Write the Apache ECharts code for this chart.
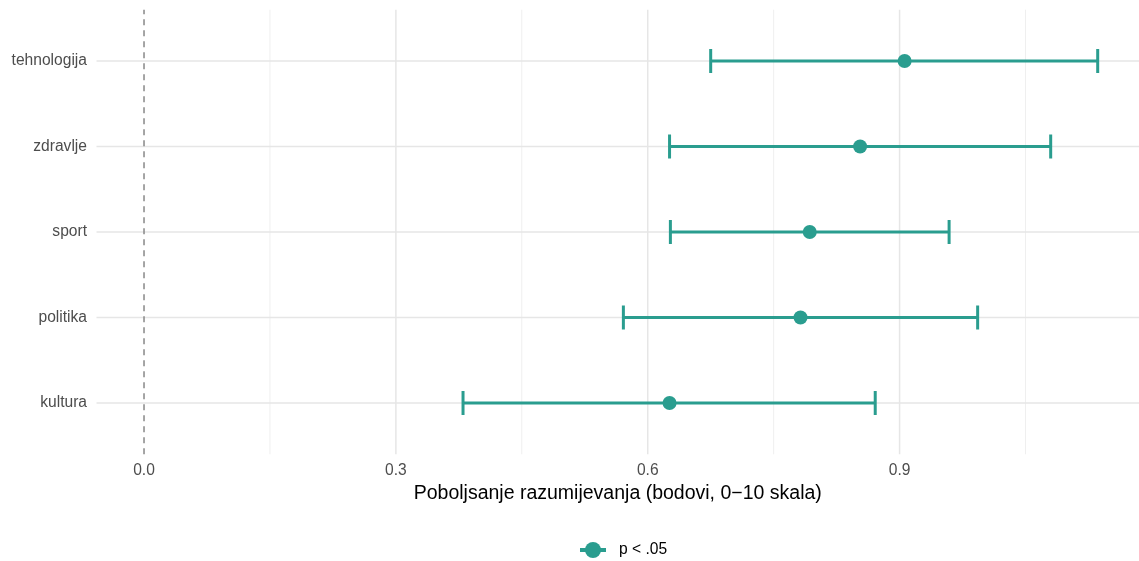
<!DOCTYPE html>
<html><head><meta charset="utf-8">
<script src="https://cdn.jsdelivr.net/npm/echarts@6/dist/echarts.min.js"></script>
<style>html,body{margin:0;padding:0;background:#fff}#c{width:1139px;height:561px}</style>
</head><body><div id="c"></div>
<script>
const categories = ['kultura', 'politika', 'sport', 'zdravlje', 'tehnologija'];
const estimates = [0.626, 0.782, 0.793, 0.853, 0.906];
const lower = [0.380, 0.571, 0.627, 0.626, 0.675];
const upper = [0.871, 0.993, 0.959, 1.080, 1.136];
const xTicks = [0, 0.3, 0.6, 0.9];
const xMinor = [0.15, 0.45, 0.75, 1.05];
const legendLabel = 'p < .05';
const xTitle = 'Poboljsanje razumijevanja (bodovi, 0\u221210 skala)';

const TEAL = '#2a9d8f';
const FONT = 'Liberation Sans';
const YMIN = 0.4, YMAX = 5.6;
const XMIN = -0.0566, XMAX = 1.1852;
const yPos = categories.map((c, i) => i + 1);

const gridData = [];
xMinor.forEach(v => gridData.push([v, 'xminor']));
xTicks.filter(v => v !== 0).forEach(v => gridData.push([v, 'xmajor']));
yPos.forEach(v => gridData.push([v, 'ymajor']));

const chart = echarts.init(document.getElementById('c'));
chart.setOption({
  animation: false,
  grid: { left: 96.5, top: 9.7, right: 0, height: 444.6, containLabel: false },
  xAxis: {
    type: 'value', min: XMIN, max: XMAX,
    axisLine: { show: false }, axisTick: { show: false }, splitLine: { show: false },
    axisLabel: { customValues: xTicks, formatter: v => v.toFixed(1), color: '#4d4d4d', fontSize: 15.6, margin: 8, fontFamily: FONT },
    name: xTitle, nameLocation: 'middle', nameGap: 28,
    nameTextStyle: { color: '#000', fontSize: 19.5, fontFamily: FONT }
  },
  yAxis: {
    type: 'value', min: YMIN, max: YMAX,
    axisLine: { show: false }, axisTick: { show: false }, splitLine: { show: false },
    axisLabel: { customValues: yPos, formatter: v => categories[Math.round(v) - 1], color: '#4d4d4d', fontSize: 15.6, margin: 9.5, fontFamily: FONT }
  },
  legend: {
    data: [legendLabel], left: 573, top: 537,
    itemWidth: 26, itemHeight: 20, itemGap: 10,
    lineStyle: { width: 4, color: TEAL },
    textStyle: { color: '#000', fontSize: 15.6, fontFamily: FONT, padding: [0, 0, 0, 8] }
  },
  series: [
    {
      type: 'custom', name: 'grid', silent: true, z: 0, clip: false,
      data: gridData,
      renderItem: (params, api) => {
        const kind = gridData[params.dataIndex][1];
        const v = api.value(0);
        let p1, p2;
        if (kind === 'ymajor') { p1 = api.coord([XMIN, v]); p2 = api.coord([XMAX, v]); }
        else { p1 = api.coord([v, YMIN]); p2 = api.coord([v, YMAX]); }
        return { type: 'line', shape: { x1: p1[0], y1: p1[1], x2: p2[0], y2: p2[1] },
          style: { stroke: kind === 'xminor' ? '#efefef' : '#e6e6e6', lineWidth: kind === 'xminor' ? 1 : 1.5 } };
      }
    },
    {
      type: 'custom', name: 'zero', silent: true, z: 1, clip: false,
      data: [[0]],
      renderItem: (params, api) => {
        const p1 = api.coord([0, YMIN]), p2 = api.coord([0, YMAX]);
        return { type: 'line', shape: { x1: p1[0], y1: p1[1], x2: p2[0], y2: p2[1] },
          style: { stroke: '#888888', lineWidth: 1.5, lineDash: [6, 5] } };
      }
    },
    {
      type: 'custom', name: 'ci', silent: true, z: 2,
      data: categories.map((c, i) => [lower[i], upper[i], yPos[i]]),
      renderItem: (params, api) => {
        const lo = api.coord([api.value(0), api.value(2)]);
        const hi = api.coord([api.value(1), api.value(2)]);
        const h = 12;
        const st = { stroke: TEAL, lineWidth: 3 };
        return { type: 'group', children: [
          { type: 'line', shape: { x1: lo[0], y1: lo[1], x2: hi[0], y2: hi[1] }, style: st },
          { type: 'line', shape: { x1: lo[0], y1: lo[1] - h, x2: lo[0], y2: lo[1] + h }, style: st },
          { type: 'line', shape: { x1: hi[0], y1: hi[1] - h, x2: hi[0], y2: hi[1] + h }, style: st }
        ] };
      }
    },
    {
      type: 'scatter', name: 'pts', z: 3, symbol: 'circle', symbolSize: 14,
      itemStyle: { color: TEAL, opacity: 1 },
      data: categories.map((c, i) => [estimates[i], yPos[i]])
    },
    {
      type: 'line', name: legendLabel, data: [], symbol: 'circle', symbolSize: 16,
      lineStyle: { color: TEAL, width: 4 }, itemStyle: { color: TEAL }
    }
  ]
});
</script></body></html>
